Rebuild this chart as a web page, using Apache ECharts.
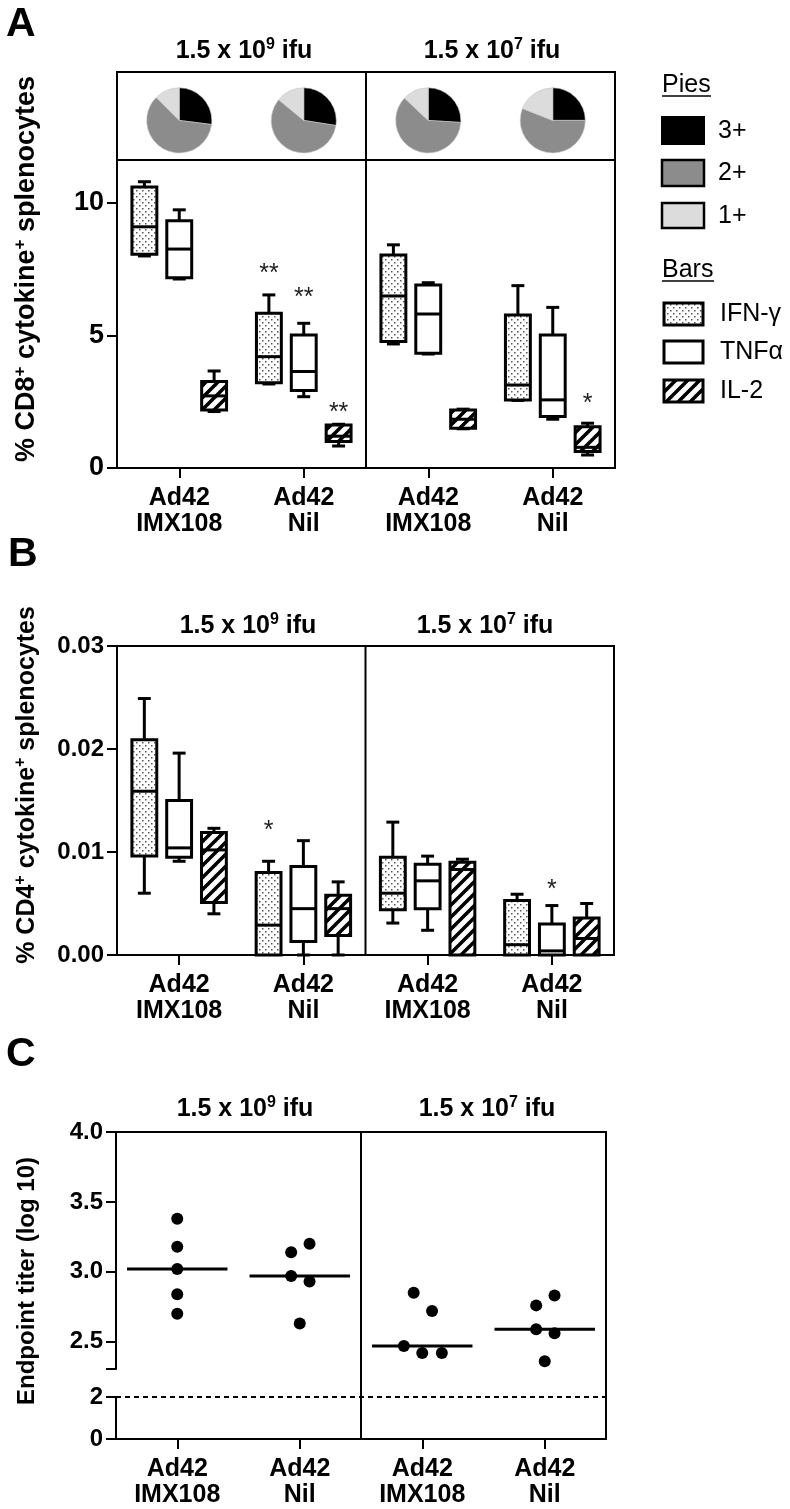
<!DOCTYPE html>
<html>
<head>
<meta charset="utf-8">
<script src="https://cdn.jsdelivr.net/npm/echarts@6.0.0/dist/echarts.min.js"></script>
<style>
html,body{margin:0;padding:0;background:#fff;}
#chart{width:790px;height:1509px;}
</style>
</head>
<body>
<div id="chart"></div>
<script>
// ---------------- DATA ----------------
const groups = ['Ad42\nIMX108', 'Ad42\nNil', 'Ad42\nIMX108', 'Ad42\nNil'];
const doses = ['1.5 x 10', '9', '1.5 x 10', '7'];
const cytokines = ['IFN-γ', 'TNFα', 'IL-2'];

// Pie fractions (3+, 2+, 1+) per group
const pie3plus = [0.27, 0.275, 0.26, 0.25];
const pie2plus = [0.605, 0.585, 0.61, 0.56];
const pie1plus = [0.125, 0.14, 0.13, 0.19];

// Panel A: % CD8+ cytokine+ : [min, q1, median, q3, max] per group
const cd8IFN = [[8.0, 8.06, 9.1, 10.6, 10.8], [3.17, 3.22, 4.2, 5.84, 6.53], [4.68, 4.77, 6.49, 8.04, 8.42], [2.55, 2.57, 3.13, 5.77, 6.88]];
const cd8TNF = [[7.13, 7.18, 8.26, 9.33, 9.74], [2.69, 2.92, 3.64, 5.02, 5.46], [4.3, 4.33, 5.81, 6.9, 6.99], [1.84, 1.94, 2.57, 5.02, 6.06]];
const cd8IL2 = [[2.13, 2.19, 2.72, 3.26, 3.66], [0.83, 1.0, 1.2, 1.62, 1.65], [1.48, 1.5, 1.84, 2.19, 2.22], [0.49, 0.62, 0.78, 1.56, 1.69]];
const cd8Stars = [[1, 0, 7.5, '**'], [1, 1, 6.6, '**'], [1, 2, 2.26, '**'], [3, 2, 2.6, '*']];

// Panel B: % CD4+ cytokine+
const cd4IFN = [[0.0060, 0.0096, 0.0159, 0.0209, 0.0249], [0, 0, 0.0029, 0.0080, 0.0091], [0.0031, 0.0044, 0.0060, 0.0095, 0.0129], [0, 0, 0.0010, 0.0053, 0.0059]];
const cd4TNF = [[0.0091, 0.0095, 0.0104, 0.0150, 0.0196], [0, 0.0013, 0.0045, 0.0086, 0.0111], [0.0024, 0.0045, 0.0072, 0.0088, 0.0096], [0, 0, 0.0004, 0.0030, 0.0048]];
const cd4IL2 = [[0.0040, 0.0051, 0.0102, 0.0119, 0.0123], [0, 0.0019, 0.0045, 0.0058, 0.0071], [0, 0, 0.0083, 0.0090, 0.0093], [0, 0, 0.0016, 0.0036, 0.0050]];
const cd4Stars = [[1, 0, 0.0125, '*'], [3, 1, 0.0068, '*']];

// Panel C: endpoint titers (log10), with horizontal jitter (in category units)
const titerVals = [[3.38, 3.18, 3.02, 2.84, 2.70], [3.14, 3.20, 2.97, 2.93, 2.63], [2.85, 2.72, 2.47, 2.42, 2.42], [2.76, 2.83, 2.59, 2.56, 2.36]];
const titerJitter = [[0, 0, 0, 0, 0], [-0.07, 0.08, -0.07, 0.08, 0], [-0.07, 0.08, -0.15, 0, 0.16], [-0.07, 0.08, -0.07, 0.08, 0]];
const titerMedian = [3.02, 2.97, 2.47, 2.59];
const detectionLimit = 2;

const ticksA = [0, 5, 10];
const ticksB = [0, 0.01, 0.02, 0.03];
const ticksCtop = [2.5, 3.0, 3.5, 4.0];
const ticksCbot = [0, 2];

// ---------------- STYLE ----------------
const FONT = '"Liberation Sans", Arial, Helvetica, sans-serif';
const BOX_STEP = 0.28, BOX_HALF = 0.1, CAP_HALF = 0.052, MED_HALF = 0.41;

function mkCanvas(w, h, draw) { const c = document.createElement('canvas'); c.width = w; c.height = h; draw(c.getContext('2d')); return c; }
const dotCanvas = mkCanvas(6, 6, x => { x.fillStyle = '#fff'; x.fillRect(0, 0, 6, 6); x.fillStyle = '#555'; x.fillRect(1, 1, 1.5, 1.5); x.fillRect(4, 4, 1.5, 1.5); });
const hatchCanvas = mkCanvas(12, 12, x => {
  x.fillStyle = '#fff'; x.fillRect(0, 0, 12, 12); x.strokeStyle = '#000'; x.lineWidth = 3.5;
  [[0, 12, 12, 0], [-6, 6, 6, -6], [6, 18, 18, 6]].forEach(l => { x.beginPath(); x.moveTo(l[0], l[1]); x.lineTo(l[2], l[3]); x.stroke(); });
});
const dotPattern = { image: dotCanvas, repeat: 'repeat' };
const hatchPattern = { image: hatchCanvas, repeat: 'repeat' };
const boxFills = [dotPattern, '#fff', hatchPattern];

// ---------------- HELPERS ----------------
function boxData(arrs) {
  const out = [];
  arrs.forEach((arr, c) => arr.forEach((v, g) => out.push([g, c].concat(v))));
  return out;
}
function boxRender(params, api) {
  const g = api.value(0), c = api.value(1);
  const lo = api.value(2), q1 = api.value(3), med = api.value(4), q3 = api.value(5), hi = api.value(6);
  const unit = api.size([1, 0])[0];
  const cx = api.coord([g, 0])[0] + (c - 1) * BOX_STEP * unit;
  const hw = BOX_HALF * unit, cw = CAP_HALF * unit;
  const Y = v => api.coord([g, v])[1];
  const ls = { stroke: '#000', lineWidth: 3 };
  const ch = [];
  if (hi > q3) {
    ch.push({ type: 'line', shape: { x1: cx, y1: Y(hi), x2: cx, y2: Y(q3) }, style: ls });
    ch.push({ type: 'line', shape: { x1: cx - cw, y1: Y(hi), x2: cx + cw, y2: Y(hi) }, style: ls });
  }
  if (lo < q1) {
    ch.push({ type: 'line', shape: { x1: cx, y1: Y(lo), x2: cx, y2: Y(q1) }, style: ls });
    ch.push({ type: 'line', shape: { x1: cx - cw, y1: Y(lo), x2: cx + cw, y2: Y(lo) }, style: ls });
  }
  ch.push({ type: 'rect', shape: { x: cx - hw, y: Y(q3), width: 2 * hw, height: Y(q1) - Y(q3) }, style: { fill: boxFills[c], stroke: '#000', lineWidth: 3 } });
  ch.push({ type: 'line', shape: { x1: cx - hw, y1: Y(med), x2: cx + hw, y2: Y(med) }, style: ls });
  return { type: 'group', children: ch };
}
function starRender(stars) {
  return function (params, api) {
    const s = stars[params.dataIndex];
    const unit = api.size([1, 0])[0];
    const p = api.coord([s[0], s[2]]);
    return { type: 'text', x: p[0] + (s[1] - 1) * BOX_STEP * unit, y: p[1] + 5,
      style: { text: s[3], fontSize: 25, fontFamily: FONT, fill: '#222', align: 'center', verticalAlign: 'middle' } };
  };
}
function pieRender(params, api) {
  const g = api.value(0);
  const c = api.coord([g, 0.45]);
  const r = api.size([0, 1])[1] * 0.37;
  const fr = [api.value(1), api.value(2), api.value(3)];
  const cols = ['#000', '#8c8c8c', '#dcdcdc'];
  let a = -Math.PI / 2;
  const ch = [];
  fr.forEach((f, i) => {
    const e = a + 2 * Math.PI * f;
    ch.push({ type: 'sector', shape: { cx: c[0], cy: c[1], r0: 0, r: r, startAngle: a, endAngle: e, clockwise: true }, style: { fill: cols[i], stroke: '#c8c8c8', lineWidth: 0.6 } });
    a = e;
  });
  return { type: 'group', children: ch };
}
function medianRender(params, api) {
  const g = api.value(0), m = api.value(1);
  const a = api.coord([g - MED_HALF, m]), b = api.coord([g + MED_HALF, m]);
  return { type: 'line', shape: { x1: a[0], y1: a[1], x2: b[0], y2: b[1] }, style: { stroke: '#000', lineWidth: 3 } };
}
const divX = (groups.length / 2) - 0.5;
function divider(xi, yi, y0, y1) {
  return { type: 'line', xAxisIndex: xi, yAxisIndex: yi, data: [[divX, y0], [divX, y1]], symbol: 'none', silent: true,
    lineStyle: { color: '#000', width: 2 }, z: 5 };
}

const groupIdx = groups.map((g, i) => i);
function catXAxis(gi) {
  return { type: 'value', gridIndex: gi, min: -0.5, max: groups.length - 0.5, splitLine: { show: false },
    axisLine: { show: true, onZero: false, lineStyle: { color: '#000', width: 2 } },
    axisTick: { show: true, customValues: groupIdx, length: 10, lineStyle: { color: '#000', width: 2 } },
    axisLabel: { customValues: groupIdx, formatter: v => groups[Math.round(v)], margin: 17, lineHeight: 26, fontSize: 25,
      color: '#000', fontWeight: 'bold', fontFamily: FONT } };
}
function valYAxis(gi, min, max, ticks, fmt, tickVals, size) {
  return { type: 'value', gridIndex: gi, min: min, max: max, splitLine: { show: false },
    axisLine: { show: true, onZero: false, lineStyle: { color: '#000', width: 2 } },
    axisTick: { show: true, customValues: tickVals || ticks, length: 10, lineStyle: { color: '#000', width: 2 } },
    axisLabel: { customValues: ticks, formatter: fmt, margin: 13, color: '#000', fontWeight: 'bold', fontSize: size || 24, fontFamily: FONT } };
}
const hidden = (gi, min, max) => ({ type: 'value', gridIndex: gi, min: min, max: max, show: false, splitLine: { show: false } });

// ---------------- GRAPHICS (text, legend) ----------------
const titleRich = { a: { fontSize: 25, fontWeight: 'bold', fontFamily: FONT, fill: '#000', lineHeight: 28 }, s: { fontSize: 16, fontWeight: 'bold', fontFamily: FONT, fill: '#000', verticalAlign: 'top', lineHeight: 16 } };
function title(x, y, i) {
  return { type: 'text', x: x, y: y, style: { text: '{a|' + doses[i] + '}{s|' + doses[i + 1] + '}{a| ifu}', rich: titleRich, align: 'center', verticalAlign: 'middle' } };
}
function yName(x, y, parts, size) {
  const rich = { a: { fontSize: size, fontWeight: 'bold', fontFamily: FONT, fill: '#000', lineHeight: size + 4 }, s: { fontSize: Math.round(size * 0.62), fontWeight: 'bold', fontFamily: FONT, fill: '#000', verticalAlign: 'top', lineHeight: Math.round(size * 0.62) } };
  return { type: 'text', x: x, y: y, rotation: Math.PI / 2, style: { text: parts, rich: rich, align: 'center', verticalAlign: 'middle' } };
}
function letter(x, y, t) { return { type: 'text', x: x, y: y, style: { text: t, fontSize: 41, fontWeight: 'bold', fontFamily: FONT, fill: '#000', verticalAlign: 'top' } }; }
function legText(x, y, t) { return { type: 'text', x: x, y: y, style: { text: t, fontSize: 25, fontFamily: FONT, fill: '#000', verticalAlign: 'middle' } }; }
function legRect(x, y, w, h, fill, lw) { return { type: 'rect', shape: { x: x, y: y, width: w, height: h }, style: { fill: fill, stroke: '#000', lineWidth: lw } }; }
function uline(x1, x2, y) { return { type: 'line', shape: { x1: x1, y1: y, x2: x2, y2: y }, style: { stroke: '#000', lineWidth: 1.5 } }; }

const graphics = [
  letter(6, 4, 'A'), letter(8, 534, 'B'), letter(6, 1034, 'C'),
  title(244, 51, 0), title(492, 51, 2),
  title(248, 626, 0), title(485, 626, 2),
  title(245, 1109, 0), title(487, 1109, 2),
  yName(27, 269, '{a|% CD8}{s|+}{a| cytokine}{s|+}{a| splenocytes}', 27),
  yName(27, 785, '{a|% CD4}{s|+}{a| cytokine}{s|+}{a| splenocytes}', 25),
  yName(27, 1281, '{a|Endpoint titer (log 10)}', 24),
  legText(662, 85, 'Pies'), uline(662, 711, 96),
  legRect(662, 117, 42, 27, '#000', 2), legText(718, 131, '3+'),
  legRect(662, 160, 42, 26, '#8c8c8c', 2.5), legText(718, 173, '2+'),
  legRect(662, 203, 42, 25, '#dcdcdc', 2.5), legText(718, 216, '1+'),
  legText(662, 270, 'Bars'), uline(662, 714, 281),
  legRect(664, 303, 39, 22, dotPattern, 3), legText(720, 314, cytokines[0]),
  legRect(664, 341, 39, 22, '#fff', 3), legText(720, 352, cytokines[1]),
  legRect(664, 380, 39, 22, hatchPattern, 3), legText(720, 391, cytokines[2])
];

// ---------------- OPTION ----------------
const gridBorder = { show: true, borderColor: '#000', borderWidth: 2, backgroundColor: 'transparent' };
const option = {
  animation: false,
  backgroundColor: '#fff',
  grid: [
    Object.assign({ left: 117, top: 72, width: 498, height: 88 }, gridBorder),
    Object.assign({ left: 117, top: 160, width: 498, height: 308 }, gridBorder),
    Object.assign({ left: 117, top: 646, width: 497, height: 309 }, gridBorder),
    { left: 116, top: 1132, width: 490, height: 237 },
    { left: 116, top: 1397, width: 490, height: 42 },
    { left: 116, top: 1132, width: 490, height: 307 }
  ],
  xAxis: [
    hidden(0, -0.5, groups.length - 0.5),
    catXAxis(1),
    catXAxis(2),
    hidden(3, -0.5, groups.length - 0.5),
    catXAxis(4),
    { type: 'value', gridIndex: 5, position: 'top', min: -0.5, max: groups.length - 0.5, splitLine: { show: false },
      axisLine: { show: true, onZero: false, lineStyle: { color: '#000', width: 2 } }, axisTick: { show: false }, axisLabel: { show: false } }
  ],
  yAxis: [
    hidden(0, 0, 1),
    valYAxis(1, 0, 11.62, ticksA, v => String(v), null, 27),
    valYAxis(2, 0, 0.03, ticksB, v => v.toFixed(2)),
    valYAxis(3, 2.305, 4.0, ticksCtop, v => v.toFixed(1), [2.305].concat(ticksCtop)),
    valYAxis(4, 0, 2, ticksCbot, v => String(v)),
    { type: 'value', gridIndex: 5, position: 'right', min: 0, max: 1, splitLine: { show: false },
      axisLine: { show: true, onZero: false, lineStyle: { color: '#000', width: 2 } }, axisTick: { show: false }, axisLabel: { show: false } }
  ],
  graphic: graphics,
  series: [
    { type: 'custom', xAxisIndex: 0, yAxisIndex: 0, renderItem: pieRender, silent: true,
      data: groups.map((g, i) => [i, pie3plus[i], pie2plus[i], pie1plus[i]]) },
    divider(0, 0, 0, 1),
    { type: 'custom', xAxisIndex: 1, yAxisIndex: 1, renderItem: boxRender, silent: true, data: boxData([cd8IFN, cd8TNF, cd8IL2]) },
    { type: 'custom', xAxisIndex: 1, yAxisIndex: 1, renderItem: starRender(cd8Stars), silent: true, data: cd8Stars.map(s => [s[0], s[2]]) },
    divider(1, 1, 0, 11.62),
    { type: 'custom', xAxisIndex: 2, yAxisIndex: 2, renderItem: boxRender, silent: true, data: boxData([cd4IFN, cd4TNF, cd4IL2]) },
    { type: 'custom', xAxisIndex: 2, yAxisIndex: 2, renderItem: starRender(cd4Stars), silent: true, data: cd4Stars.map(s => [s[0], s[2]]) },
    divider(2, 2, 0, 0.03),
    { type: 'scatter', xAxisIndex: 3, yAxisIndex: 3, symbolSize: 12, itemStyle: { color: '#000', opacity: 1 }, silent: true,
      data: titerVals.flatMap((arr, g) => arr.map((v, k) => [g + titerJitter[g][k], v])) },
    { type: 'custom', xAxisIndex: 3, yAxisIndex: 3, renderItem: medianRender, silent: true, data: titerMedian.map((m, g) => [g, m]) },
    { type: 'line', xAxisIndex: 4, yAxisIndex: 4, symbol: 'none', silent: true, data: [[-0.5, detectionLimit], [groups.length - 0.5, detectionLimit]],
      lineStyle: { color: '#000', width: 2, type: [5, 4] } },
    divider(5, 5, 0, 1)
  ]
};
const chart = echarts.init(document.getElementById('chart'), null, { renderer: 'canvas', width: 790, height: 1509 });
chart.setOption(option);
</script>
</body>
</html>
